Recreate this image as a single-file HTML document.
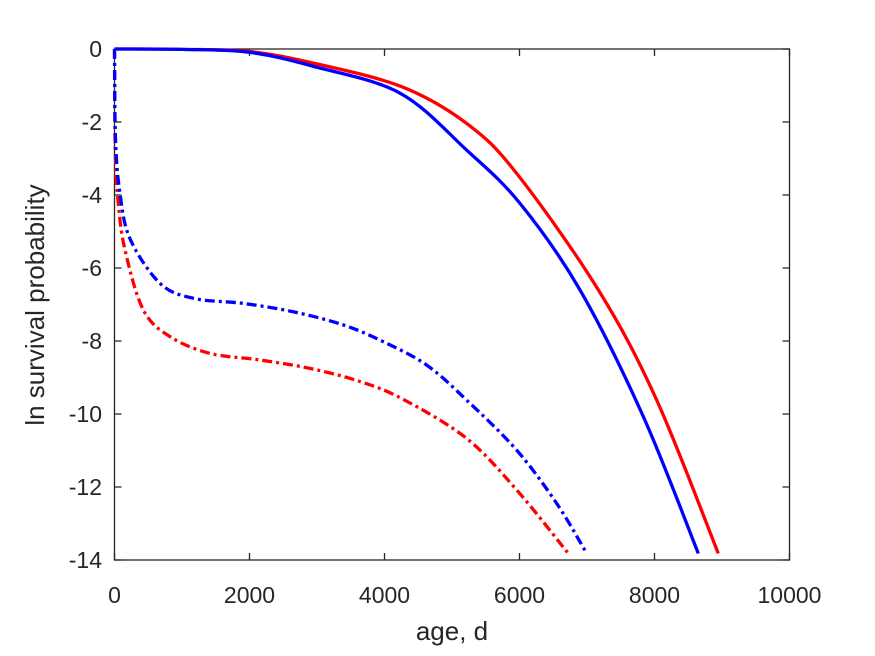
<!DOCTYPE html>
<html><head><meta charset="utf-8"><style>
html,body{margin:0;padding:0;background:#fff;}
svg{display:block;font-family:"Liberation Sans",sans-serif;}
</style></head><body>
<svg id="chart" width="875" height="656" viewBox="0 0 875 656" xmlns="http://www.w3.org/2000/svg">
<rect x="0" y="0" width="875" height="656" fill="#fff"/>
<g id="axes"></g>
<g id="series"></g>
<text x="452" y="640" text-anchor="middle" font-size="26" fill="#262626">age, d</text>
<text transform="translate(44,305) rotate(-90)" text-anchor="middle" font-size="26" fill="#262626">ln survival probability</text>
</svg>
<script>
const xTicks = [0, 2000, 4000, 6000, 8000, 10000];
const yTicks = [0, -2, -4, -6, -8, -10, -12, -14];
const redSolidX = [0, 1000, 2000, 2956, 4250, 5217, 5959, 7168, 8033, 8945];
const redSolidY = [0, -0.01, -0.07, -0.39, -1.03, -2.04, -3.41, -6.6, -9.62, -13.82];
const blueSolidX = [0, 1000, 1993, 2956, 4230, 5217, 6007, 6896, 7834, 8649];
const blueSolidY = [0, -0.01, -0.09, -0.48, -1.21, -2.77, -4.23, -6.6, -10.07, -13.82];
const blueDashX = [0, 15, 81, 230, 674, 1168, 1909, 2649, 3390, 3983, 4625, 5217, 5958, 6551, 6996];
const blueDashY = [0, -2.5, -3.95, -5.2, -6.42, -6.83, -6.97, -7.2, -7.56, -8.02, -8.66, -9.62, -10.99, -12.45, -13.82];
const redDashX = [0, 12, 55, 156, 427, 822, 1415, 2156, 2896, 3637, 4279, 5217, 5958, 6723];
const redDashY = [0, -2.8, -4.2, -5.51, -7.15, -7.88, -8.34, -8.52, -8.75, -9.11, -9.6, -10.67, -12.08, -13.82];

const X0 = 114.5, X1 = 789.5, Y0 = 49, Y1 = 560;
function xs(v){ return X0 + (v - 0) / 10000 * (X1 - X0); }
function ys(v){ return Y0 + (0 - v) / 14 * (Y1 - Y0); }
const NS = "http://www.w3.org/2000/svg";
const axes = document.getElementById('axes');
const box = document.createElementNS(NS, 'rect');


box.setAttribute('x', X0); box.setAttribute('y', Y0);
box.setAttribute('width', X1 - X0); box.setAttribute('height', Y1 - Y0);
box.setAttribute('fill', 'none'); box.setAttribute('stroke', '#262626'); box.setAttribute('stroke-width', '1.3');
axes.appendChild(box);
xTicks.forEach(t => {
  const x = xs(t);
  const l = document.createElementNS(NS, 'path');
  
  
  l.setAttribute('d', `M${x},${Y1}v-7M${x},${Y0}v7`);
  l.setAttribute('stroke', '#262626'); l.setAttribute('stroke-width', '1.3');
  axes.appendChild(l);
  const tx = document.createElementNS(NS, 'text');
  
  
  tx.setAttribute('x', x); tx.setAttribute('y', 603);
  tx.setAttribute('text-anchor', 'middle'); tx.setAttribute('font-size', '23'); tx.setAttribute('fill', '#262626');
  tx.textContent = t;
  axes.appendChild(tx);
});
yTicks.forEach(t => {
  const y = ys(t);
  const l = document.createElementNS(NS, 'path');
  
  
  l.setAttribute('d', `M${X0},${y}h7M${X1},${y}h-7`);
  l.setAttribute('stroke', '#262626'); l.setAttribute('stroke-width', '1.3');
  axes.appendChild(l);
  const tx = document.createElementNS(NS, 'text');
  
  
  tx.setAttribute('x', 102); tx.setAttribute('y', y + 8);
  tx.setAttribute('text-anchor', 'end'); tx.setAttribute('font-size', '23'); tx.setAttribute('fill', '#262626');
  tx.textContent = t;
  axes.appendChild(tx);
});
function pathFor(xa, ya){
  const p = xa.map((v, i) => [xs(v), ys(ya[i])]);
  let d = `M${p[0][0]},${p[0][1]}`;
  for (let i = 0; i < p.length - 1; i++) {
    const p0 = p[Math.max(0, i - 1)], p1 = p[i], p2 = p[i + 1], p3 = p[Math.min(p.length - 1, i + 2)];
    const c1 = [p1[0] + (p2[0] - p0[0]) / 6, p1[1] + (p2[1] - p0[1]) / 6];
    const c2 = [p2[0] - (p3[0] - p1[0]) / 6, p2[1] - (p3[1] - p1[1]) / 6];
    d += `C${c1[0]},${c1[1]} ${c2[0]},${c2[1]} ${p2[0]},${p2[1]}`;
  }
  return d;
}
const ser = document.getElementById('series');
function addLine(name, xa, ya, color, dash){
  const el = document.createElementNS(NS, 'path');
  
  
  el.setAttribute('d', pathFor(xa, ya));
  el.setAttribute('fill', 'none'); el.setAttribute('stroke', color); el.setAttribute('stroke-width', '3.3');
  if (dash) el.setAttribute('stroke-dasharray', dash);
  ser.appendChild(el);
}
addLine('red-dashdot-line', redDashX, redDashY, '#ff0000', '10,4,3,4');
addLine('blue-dashdot-line', blueDashX, blueDashY, '#0000ff', '10,4,3,4');
addLine('red-solid-line', redSolidX, redSolidY, '#ff0000', null);
addLine('blue-solid-line', blueSolidX, blueSolidY, '#0000ff', null);
</script>
</body></html>
